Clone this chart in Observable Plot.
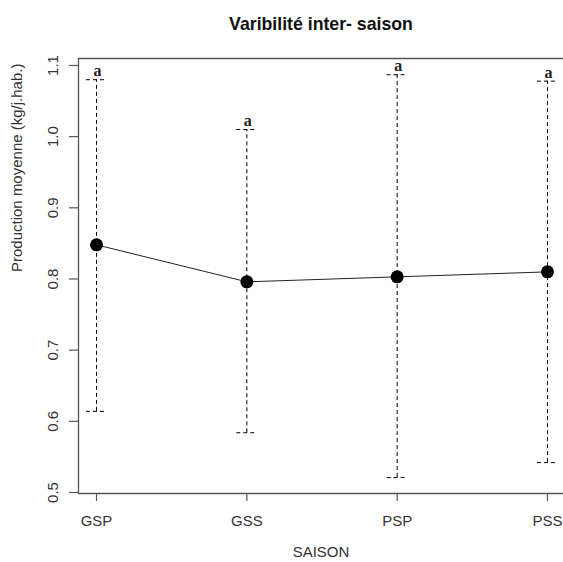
<!DOCTYPE html>
<html><head><meta charset="utf-8">
<script src="https://cdn.jsdelivr.net/npm/d3@7"></script>
<script src="https://cdn.jsdelivr.net/npm/@observablehq/plot@0.6"></script>
<style>html,body{margin:0;padding:0;background:#fff;overflow:hidden}</style>
</head><body><div id="chart"></div>
<script>
const categories = ["GSP", "GSS", "PSP", "PSS"];
const means = [0.848, 0.796, 0.803, 0.810];
const upper = [1.080, 1.010, 1.087, 1.078];
const lower = [0.614, 0.584, 0.521, 0.542];
const letters = ["a", "a", "a", "a"];
const yTicks = [0.5, 0.6, 0.7, 0.8, 0.9, 1.0, 1.1];
const title = "Varibilité inter- saison";
const xLabel = "SAISON";
const yLabel = "Production moyenne (kg/j.hab.)";

const data = categories.map((c, i) => ({cat: c, pos: i + 1, mean: means[i], hi: upper[i], lo: lower[i], letter: letters[i]}));
const xDom = [0.88, 4.12];
const yDom = [0.4986, 1.1098];
const capHalf = 0.067;
const sans = "'Liberation Sans', Arial, sans-serif";
const axisCol = "#555";
const textCol = "#333";

const chart = Plot.plot({
  width: 563, height: 562,
  marginLeft: 78, marginRight: 0, marginTop: 58, marginBottom: 69,
  x: {domain: xDom, range: [78, 565]},
  y: {domain: yDom},
  style: {fontFamily: sans, fontSize: "15px", color: textCol, background: "#fff"},
  marks: [
    Plot.ruleY([yDom[1], yDom[0]], {stroke: axisCol, strokeWidth: 1.3}),
    Plot.ruleX([xDom[0]], {stroke: axisCol, strokeWidth: 1.3}),
    Plot.axisY({ticks: yTicks, tickSize: 9, tickFormat: () => "", label: null, stroke: axisCol, strokeWidth: 1.2}),
    Plot.text(yTicks, {x: xDom[0], y: d => d, text: d => d.toFixed(1), rotate: -90, dx: -25.5,
      textAnchor: "middle", lineAnchor: "middle", fill: textCol, fontSize: 15}),
    Plot.axisX({ticks: [1, 2, 3, 4], tickFormat: d => categories[d - 1], tickSize: 8, tickPadding: 14,
      label: null, anchor: "bottom", stroke: axisCol, strokeWidth: 1.2, fill: textCol, fontSize: 15}),
    Plot.ruleX(data, {x: "pos", y1: "lo", y2: "hi", stroke: "#000", strokeWidth: 1, strokeDasharray: "4,3"}),
    Plot.ruleY(data, {y: "hi", x1: d => d.pos - capHalf, x2: d => d.pos + capHalf, stroke: "#000", strokeWidth: 1, strokeDasharray: "4,3"}),
    Plot.ruleY(data, {y: "lo", x1: d => d.pos - capHalf, x2: d => d.pos + capHalf, stroke: "#000", strokeWidth: 1, strokeDasharray: "4,3"}),
    Plot.line(data, {x: "pos", y: "mean", stroke: "#222", strokeWidth: 1}),
    Plot.dot(data, {x: "pos", y: "mean", r: 6.5, fill: "#000", stroke: "none"}),
    Plot.text(data, {x: "pos", y: "hi", text: "letter", dx: 1, dy: -8.5, lineAnchor: "middle",
      fontFamily: "'Liberation Serif', 'DejaVu Serif', serif", fontSize: 16, fontWeight: "bold", fill: "#222"}),
    Plot.text([title], {frameAnchor: "top", lineAnchor: "middle", dy: -34, fontWeight: "bold", fontSize: 17.7, fill: "#111"}),
    Plot.text([xLabel], {frameAnchor: "bottom", lineAnchor: "middle", dy: 59, fontSize: 15, fill: textCol}),
    Plot.text([yLabel], {frameAnchor: "left", lineAnchor: "middle", rotate: -90, dx: -61, dy: -4, fontSize: 15, fill: textCol})
  ]
});
document.getElementById("chart").appendChild(chart);
</script>
</body></html>
